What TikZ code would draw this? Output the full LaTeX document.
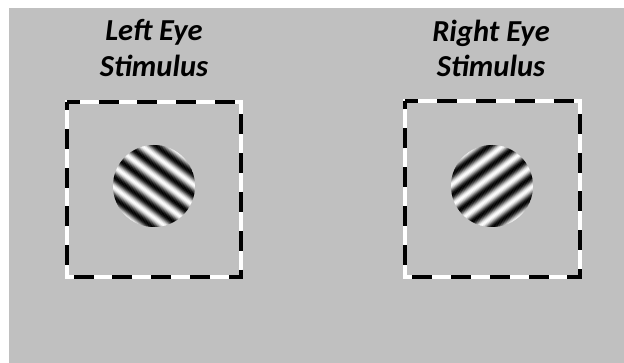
\documentclass[tikz,border=0pt]{standalone}
\usepackage{fontspec}
\setmainfont{Carlito}
\definecolor{bggray}{RGB}{192,192,192}
\tikzset{
  boxarea/.style={minimum width=174pt, minimum height=175pt, inner sep=0pt},
  dashborder/.style={draw=black, line width=4pt, dash pattern=on 20pt off 18.8pt, dash phase=7pt,
    preaction={draw=white, solid, line width=4pt}},
  disc/.style={circle, minimum size=82pt, inner sep=0pt},
  title/.style={font=\fontsize{30.5}{35.5}\selectfont\bfseries\itshape, align=center, inner sep=0pt, text=black}
}
\newcommand{\gratingfill}[2]{%
  \begin{scope}
    \clip (#1.center) circle (41);
    \begin{scope}[shift={(#1.center)}, rotate=#2]
      \foreach \i in {-46,...,46} {
        \pgfmathsetmacro\g{50*(1+cos(\i*21.5))}
        \fill[black!\g] (\i-0.6,-50) rectangle (\i+0.6,50);
      }
    \end{scope}
  \end{scope}}
\begin{document}
\begin{tikzpicture}[x=1pt,y=-1pt]
  \useasboundingbox (0,0) rectangle (624,363);
  \fill[white] (0,0) rectangle (624,363);
  \fill[bggray] (9,8) rectangle (624,363);
  \node[title, anchor=north] (lefttitle) at (154,19.5) {Left Eye\\Stimulus};
  \node[title, anchor=north] (righttitle) at (491,19.5) {Right Eye\\Stimulus};
  \node[boxarea] (leftbox) at (154,189.5) {};
  \node[boxarea] (rightbox) at (492.5,189) {};
  \draw[dashborder] (leftbox.north west) -- (leftbox.north east) -- (leftbox.south east) -- (leftbox.south west) -- cycle;
  \draw[dashborder] (rightbox.north west) -- (rightbox.north east) -- (rightbox.south east) -- (rightbox.south west) -- cycle;
  \node[disc] (leftgrating) at (154,186) {};
  \node[disc] (rightgrating) at (492,186) {};
  \gratingfill{leftgrating}{53}
  \gratingfill{rightgrating}{-53}
\end{tikzpicture}
\end{document}
